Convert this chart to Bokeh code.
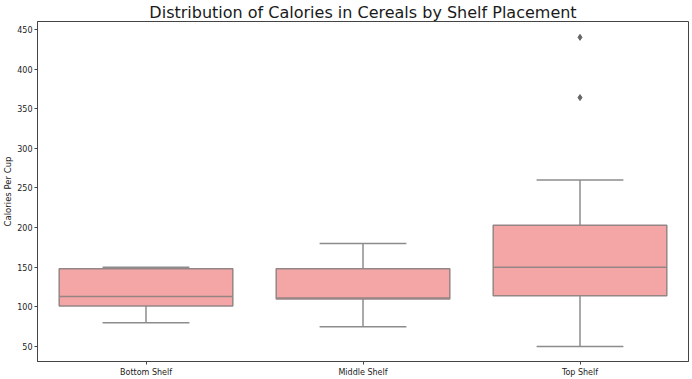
from bokeh.plotting import figure
from bokeh.models import FixedTicker
from bokeh.embed import file_html
from bokeh.resources import INLINE

categories = ["Bottom Shelf", "Middle Shelf", "Top Shelf"]
q1 = [101, 110, 114]
median = [113, 111, 150]
q3 = [148, 148, 203]
whisker_low = [80, 75, 50]
whisker_high = [150, 180, 260]
outlier_cats = ["Top Shelf", "Top Shelf"]
outlier_vals = [440, 364]
y_ticks = [50, 100, 150, 200, 250, 300, 350, 400, 450]

FONT = "DejaVu Sans"
LINE = "#8c8c8c"
FILL = "#f4a6a6"

p = figure(x_range=categories, y_range=(31, 460), width=692, height=379,
           output_backend="svg", toolbar_location=None,
           title="Distribution of Calories in Cereals by Shelf Placement")
p.min_border_left = 0
p.min_border_right = 4
p.min_border_top = 0
p.min_border_bottom = 0
p.background_fill_color = "white"
p.border_fill_color = "white"
p.outline_line_color = "#444444"
p.outline_line_width = 1
p.grid.visible = False

p.title.text_font = FONT
p.title.text_font_size = "16px"
p.title.text_font_style = "normal"
p.title.text_color = "#1a1a1a"
p.title.align = "center"
p.title.standoff = 0
p.title.text_line_height = 1.0

# whiskers
p.segment(x0=categories, y0=whisker_low, x1=categories, y1=q1, line_color=LINE, line_width=1.5)
p.segment(x0=categories, y0=q3, x1=categories, y1=whisker_high, line_color=LINE, line_width=1.5)
# caps
p.segment(x0=[(c, -0.2) for c in categories], y0=whisker_low,
          x1=[(c, 0.2) for c in categories], y1=whisker_low, line_color=LINE, line_width=1.5)
p.segment(x0=[(c, -0.2) for c in categories], y0=whisker_high,
          x1=[(c, 0.2) for c in categories], y1=whisker_high, line_color=LINE, line_width=1.5)
# boxes
p.vbar(x=categories, bottom=q1, top=q3, width=0.8, fill_color=FILL,
       line_color="#958585", line_width=1.5)
# medians
p.segment(x0=[(c, -0.4) for c in categories], y0=median,
          x1=[(c, 0.4) for c in categories], y1=median, line_color="#958585", line_width=1.5)
# outliers
p.scatter(x=outlier_cats, y=outlier_vals, marker="diamond", size=6,
          fill_color="#666666", line_color="#666666")

p.yaxis.ticker = FixedTicker(ticks=y_ticks)
p.yaxis.axis_label = "Calories Per Cup"
for ax in (p.xaxis[0], p.yaxis[0]):
    ax.axis_line_color = "#444444"
    ax.major_tick_line_color = "#444444"
    ax.minor_tick_line_color = None
    ax.major_tick_out = 3
    ax.major_tick_in = 0
    ax.major_label_text_font = FONT
    ax.major_label_text_font_size = "8px"
    ax.major_label_text_color = "#222222"
    ax.major_label_standoff = 2
p.yaxis.axis_label_text_font = FONT
p.yaxis.axis_label_text_font_size = "8.5px"
p.yaxis.axis_label_text_font_style = "normal"
p.yaxis.axis_label_text_color = "#222222"
p.yaxis.axis_label_standoff = 1
p.xaxis.major_label_standoff = 3
p.xaxis.axis_label_standoff = 0

open("out.html", "w").write(file_html(p, INLINE))
